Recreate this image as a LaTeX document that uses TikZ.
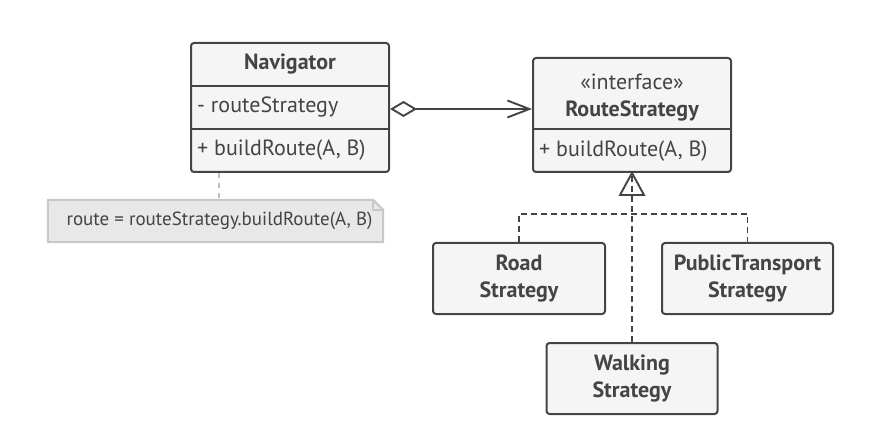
\documentclass[tikz,border=0pt]{standalone}
\usepackage{fontspec}
\setmainfont{PT Sans}
\usepackage{tikz}
\usetikzlibrary{arrows.meta,positioning,calc}
\definecolor{ink}{RGB}{68,68,68}
\definecolor{boxfill}{RGB}{245,245,245}
\definecolor{notefill}{RGB}{232,232,232}
\definecolor{noteedge}{RGB}{200,200,200}
\definecolor{notelink}{RGB}{190,190,190}

\begin{document}
\begin{tikzpicture}[x=1pt, y=-1pt,
    classbox/.style={draw=ink, fill=boxfill, line width=2pt, rounded corners=3pt, inner sep=0pt},
    classname/.style={text=ink, font=\fontsize{22}{27}\selectfont\bfseries, align=center},
    member/.style={text=ink, font=\fontsize{22}{27}\selectfont, anchor=west, inner sep=0pt},
    divider/.style={draw=ink, line width=2pt},
    link/.style={draw=ink, line width=1.9pt},
    realize/.style={link, dash pattern=on 6pt off 4pt}]
  \useasboundingbox (0,0) rectangle (896,430);

  % Navigator class
  \node[classbox, minimum width=198pt, minimum height=129pt] (nav) at (290,107.5) {};
  \draw[divider] (nav.west |- 0,86) -- (nav.east |- 0,86);
  \draw[divider] (nav.west |- 0,129) -- (nav.east |- 0,129);
  \node[classname] (navname) at (290,64.5) {Navigator};
  \node[member] (navattr) at (197,107.5) {- routeStrategy};
  \node[member] (navop) at (197,150.5) {+ buildRoute(A, B)};

  % RouteStrategy interface
  \node[classbox, minimum width=198pt, minimum height=114pt] (rs) at (632,115) {};
  \draw[divider] (rs.west |- 0,129) -- (rs.east |- 0,129);
  \node[classname, font=\fontsize{22}{27}\selectfont] (rsstereo) at (632,82) {«interface»};
  \node[classname] (rsname) at (632,111) {RouteStrategy};
  \node[member] (rsop) at (539,151.5) {+ buildRoute(A, B)};

  % Concrete strategies
  \node[classbox, minimum width=172pt, minimum height=71pt, classname] (road) at (519,278.5) {Road\\Strategy};
  \node[classbox, minimum width=171pt, minimum height=71pt, classname] (public) at (747.5,278.5) {PublicTransport\\Strategy};
  \node[classbox, minimum width=171pt, minimum height=71pt, classname] (walk) at (632,378.5) {Walking\\Strategy};

  % Note
  \node[minimum width=335pt, minimum height=42pt, inner sep=0pt] (note) at (215.5,221) {};
  \draw[noteedge, fill=notefill, line width=2pt]
    (note.north west) -- ([xshift=-10pt]note.north east) -- ([yshift=-10pt]note.north east)
    -- (note.south east) -- (note.south west) -- cycle;
  \draw[noteedge, line width=1.5pt]
    ([xshift=-10pt]note.north east) -- ([xshift=-10pt,yshift=-10pt]note.north east)
    -- ([yshift=-10pt]note.north east);
  \node[text=ink, font=\fontsize{19}{23}\selectfont] (notetext) at ([xshift=4pt]note.center) {route = routeStrategy.buildRoute(A, B)};
  \draw[notelink, line width=2pt, dash pattern=on 5pt off 5pt]
    ([xshift=29pt]nav.south west) -- ([xshift=29pt]nav.south west |- note.north);

  % Aggregation
  \draw[link, {Diamond[open, length=27pt, width=16pt, line width=1.9pt]}-{Straight Barb[length=22pt, width=17pt, line width=1.9pt]}]
    ([yshift=-1.5pt]nav.east |- navattr) -- ([yshift=-1.5pt]rs.west |- navattr);

  % Realization
  \coordinate (bus) at (632,214);
  \draw[realize] (road.north) |- (bus) -| (public.north);
  \draw[link, fill=white, line join=miter] (rs.south) -- ++(12,22) -- ++(-24,0) -- cycle;
  \draw[realize] (walk.north) -- (rs.south);
\end{tikzpicture}
\end{document}
